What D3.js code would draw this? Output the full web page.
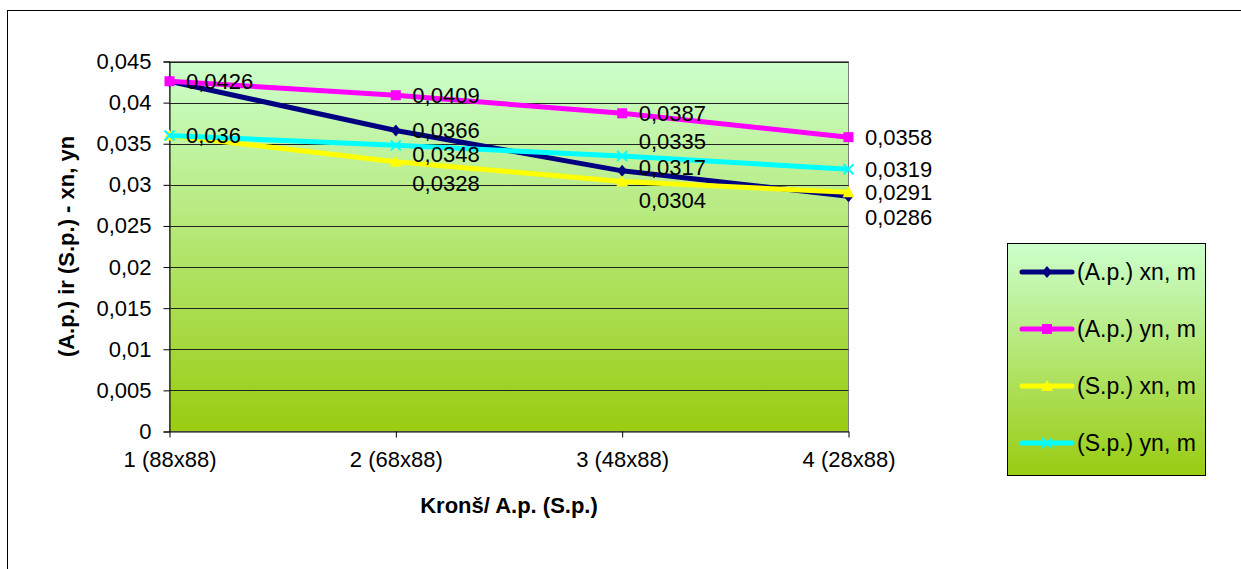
<!DOCTYPE html>
<html>
<head>
<meta charset="utf-8">
<script src="https://cdn.jsdelivr.net/npm/d3@7"></script>
<style>
  html, body { margin: 0; padding: 0; background: #fff; }
  svg { display: block; font-family: "Liberation Sans", Arial, sans-serif; }
</style>
</head>
<body>
<svg id="chart" width="1241" height="569"></svg>
<script>
// Bracket variants along the x axis
const categories = ["1 (88x88)", "2 (68x88)", "3 (48x88)", "4 (28x88)"];

// Displacements, m
const apXn = [0.0426, 0.0366, 0.0317, 0.0286];
const apYn = [0.0426, 0.0409, 0.0387, 0.0358];
const spXn = [0.036, 0.0328, 0.0304, 0.0291];
const spYn = [0.036, 0.0348, 0.0335, 0.0319];

const seriesNames = ["(A.p.) xn, m", "(A.p.) yn, m", "(S.p.) xn, m", "(S.p.) yn, m"];
const yTicks = [0, 0.005, 0.01, 0.015, 0.02, 0.025, 0.03, 0.035, 0.04, 0.045];

const xTitle = "Kronš/ A.p. (S.p.)";
const yTitle = "(A.p.) ir (S.p.) - xn, yn";

// ---- styling ----
const seriesStyle = [
  { color: "#000080", marker: "diamond" },
  { color: "#FF00FF", marker: "square" },
  { color: "#FFFF00", marker: "triangle" },
  { color: "#00FFFF", marker: "cross" }
];
// vertical nudges of value labels (px), per series and category
const labelDy = [
  [0, 0, -4, 21],
  [0, 0, 0, 0],
  [0, 21, 19, 0],
  [0, 9, -15, 0]
];

const svg = d3.select("#chart");
const plot = { left: 169.5, right: 848.5, top: 61.5, bottom: 431.5 };
const FONT = 22;

const loc = d3.formatLocale({ decimal: ",", thousands: " ", grouping: [3], currency: ["", ""] });
const fmt = loc.format("~g");

// gradient fill shared by plot area and legend
const defs = svg.append("defs");
const grad = defs.append("linearGradient").attr("id", "bg").attr("x1", 0).attr("y1", 0).attr("x2", 0).attr("y2", 1);
grad.append("stop").attr("offset", "0%").attr("stop-color", "#CCFFCC");
grad.append("stop").attr("offset", "100%").attr("stop-color", "#99CC11");

// chart frame
svg.append("rect").attr("x", 7.5).attr("y", 10.5).attr("width", 1300).attr("height", 700)
  .attr("fill", "#fff").attr("stroke", "#000").attr("stroke-width", 1);

const x = d3.scalePoint().domain(categories).range([plot.left, plot.right]);
const y = d3.scaleLinear().domain([0, 0.045]).range([plot.bottom, plot.top]);

// plot area
svg.append("rect").attr("x", plot.left).attr("y", plot.top)
  .attr("width", plot.right - plot.left).attr("height", plot.bottom - plot.top)
  .attr("fill", "url(#bg)").attr("stroke", "#808080").attr("stroke-width", 1);

// gridlines
svg.append("g").selectAll("line").data(yTicks.filter(d => d > 0)).join("line")
  .attr("x1", plot.left).attr("x2", plot.right)
  .attr("y1", d => Math.round(y(d)) + 0.5).attr("y2", d => Math.round(y(d)) + 0.5)
  .attr("stroke", "#222").attr("stroke-width", 1);

// y axis
const yAxis = svg.append("g").attr("transform", `translate(${plot.left},0)`)
  .call(d3.axisLeft(y).tickValues(yTicks).tickFormat(d => fmt(d)).tickSize(6).tickPadding(12));
yAxis.select(".domain").attr("stroke", "#000");
yAxis.selectAll(".tick line").attr("stroke", "#000");
yAxis.selectAll(".tick text").attr("font-size", FONT).attr("fill", "#000")
  .attr("font-family", "Liberation Sans, Arial, sans-serif");

// x axis
const xAxis = svg.append("g").attr("transform", `translate(0,${plot.bottom})`)
  .call(d3.axisBottom(x).tickSize(6).tickSizeOuter(0).tickPadding(14));
xAxis.select(".domain").attr("stroke", "#000");
xAxis.selectAll(".tick line").attr("stroke", "#000");
xAxis.selectAll(".tick text").attr("font-size", FONT).attr("fill", "#000")
  .attr("font-family", "Liberation Sans, Arial, sans-serif");

// axis titles
svg.append("text").attr("x", (plot.left + plot.right) / 2).attr("y", 513)
  .attr("text-anchor", "middle").attr("font-size", FONT).attr("font-weight", "bold").text(xTitle);
svg.append("text").attr("transform", `translate(74,${(plot.top + plot.bottom) / 2}) rotate(-90)`)
  .attr("text-anchor", "middle").attr("font-size", FONT).attr("font-weight", "bold").text(yTitle);

// markers
function drawMarker(g, type, color, cx, cy) {
  if (type === "diamond") {
    g.append("path").attr("d", `M${cx},${cy - 6}L${cx + 5},${cy}L${cx},${cy + 6}L${cx - 5},${cy}Z`)
      .attr("fill", color);
  } else if (type === "square") {
    g.append("rect").attr("x", cx - 5).attr("y", cy - 5).attr("width", 10).attr("height", 10).attr("fill", color);
  } else if (type === "triangle") {
    g.append("path").attr("d", `M${cx},${cy - 6}L${cx + 6},${cy + 5}L${cx - 6},${cy + 5}Z`).attr("fill", color);
  } else if (type === "cross") {
    g.append("path").attr("d", `M${cx - 5},${cy - 5}L${cx + 5},${cy + 5}M${cx - 5},${cy + 5}L${cx + 5},${cy - 5}`)
      .attr("stroke", color).attr("stroke-width", 2).attr("fill", "none");
  }
}

const allSeries = [apXn, apYn, spXn, spYn];
const line = d3.line().x((d, i) => x(categories[i])).y(d => y(d));

allSeries.forEach((vals, s) => {
  const g = svg.append("g");
  g.append("path").datum(vals).attr("d", line).attr("fill", "none")
    .attr("stroke", seriesStyle[s].color).attr("stroke-width", 5).attr("stroke-linejoin", "round");
  vals.forEach((v, i) => drawMarker(g, seriesStyle[s].marker, seriesStyle[s].color, x(categories[i]), y(v)));
});

// value labels (coincident labels are drawn once)
const drawn = new Set();
const labels = svg.append("g");
allSeries.forEach((vals, s) => {
  vals.forEach((v, i) => {
    const key = i + ":" + v + ":" + labelDy[s][i];
    if (drawn.has(key)) return;
    drawn.add(key);
    labels.append("text")
      .attr("x", x(categories[i]) + 16.5)
      .attr("y", y(v) + labelDy[s][i])
      .attr("dy", "0.36em")
      .attr("font-size", FONT).attr("fill", "#000")
      .text(String(v).replace(".", ","));
  });
});

// legend
const lg = svg.append("g");
lg.append("rect").attr("x", 1007.5).attr("y", 243.5).attr("width", 198).attr("height", 232)
  .attr("fill", "url(#bg)").attr("stroke", "#000").attr("stroke-width", 1);
const legendY = d3.scalePoint().domain(seriesNames).range([272, 443]);
seriesNames.forEach((name, s) => {
  const ly = legendY(name);
  lg.append("line").attr("x1", 1022).attr("x2", 1072).attr("y1", ly).attr("y2", ly)
    .attr("stroke", seriesStyle[s].color).attr("stroke-width", 5).attr("stroke-linecap", "round");
  drawMarker(lg, seriesStyle[s].marker, seriesStyle[s].color, 1047, ly);
  lg.append("text").attr("x", 1077).attr("y", ly).attr("dy", "0.36em")
    .attr("font-size", 23).attr("fill", "#000").text(name);
});
</script>
</body>
</html>
